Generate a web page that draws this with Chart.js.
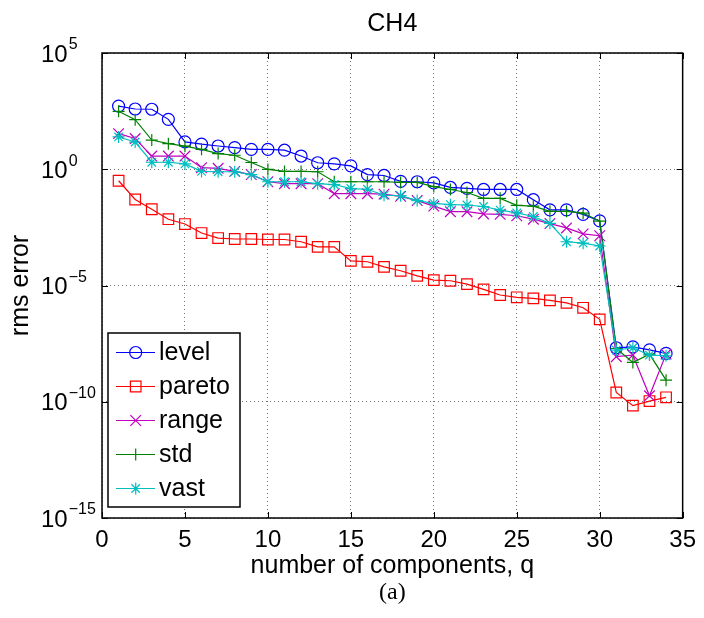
<!DOCTYPE html>
<html>
<head>
<meta charset="utf-8">
<script src="https://cdn.jsdelivr.net/npm/chart.js@4/dist/chart.umd.min.js"></script>
<style>
  html, body { margin: 0; padding: 0; background: #fff; }
  canvas { display: block; }
</style>
</head>
<body>
<canvas id="c" width="704" height="618"></canvas>
<script>
// number of retained components
const components = [1, 2, 3, 4, 5, 6, 7, 8, 9, 10, 11, 12, 13, 14, 15, 16, 17,
  18, 19, 20, 21, 22, 23, 24, 25, 26, 27, 28, 29, 30, 31, 32, 33, 34];

// rms reconstruction error for each scaling method
const level = [5.2e2, 3.9e2, 3.8e2, 1.4e2, 1.5e1, 1.2e1, 1.0e1, 8.5e0, 7.2e0, 7.2e0,
  6.6e0, 3.7e0, 1.9e0, 1.7e0, 1.4e0, 5.9e-1, 5.4e-1, 3.0e-1, 2.9e-1, 2.6e-1,
  1.65e-1, 1.5e-1, 1.35e-1, 1.35e-1, 1.35e-1, 4.9e-2, 1.8e-2, 1.8e-2, 1.15e-2, 6.0e-3,
  2.1e-8, 2.3e-8, 1.7e-8, 1.2e-8];
const pareto = [3.2e-1, 5.0e-2, 1.9e-2, 7.1e-3, 4.4e-3, 1.8e-3, 1.1e-3, 1.0e-3, 1.0e-3, 9.5e-4,
  9.5e-4, 7.6e-4, 4.6e-4, 4.6e-4, 1.15e-4, 1.05e-4, 6.3e-5, 4.3e-5, 2.6e-5, 1.7e-5,
  1.6e-5, 1.15e-5, 6.8e-6, 3.9e-6, 3.1e-6, 2.8e-6, 2.3e-6, 1.8e-6, 1.1e-6, 3.5e-7,
  2.5e-10, 6.8e-11, 1.07e-10, 1.55e-10];
const range = [3.4e1, 2.1e1, 3.7e0, 3.7e0, 3.7e0, 1.17e0, 1.1e0, 8.1e-1, 5.9e-1, 2.9e-1,
  2.4e-1, 2.4e-1, 2.4e-1, 8.9e-2, 8.9e-2, 8.9e-2, 8.5e-2, 6.8e-2, 4.5e-2, 2.6e-2,
  1.5e-2, 1.5e-2, 1.2e-2, 1.15e-2, 1.0e-2, 7.1e-3, 4.6e-3, 3.0e-3, 1.66e-3, 1.38e-3,
  8.7e-9, 1.02e-8, 1.8e-10, 1.12e-8];
const std = [3.1e2, 1.35e2, 1.8e1, 1.26e1, 9.8e0, 7.2e0, 4.7e0, 4.0e0, 1.95e0, 9.8e-1,
  8.1e-1, 8.1e-1, 7.8e-1, 2.9e-1, 2.9e-1, 2.9e-1, 2.9e-1, 2.7e-1, 2.7e-1, 1.8e-1,
  1.35e-1, 1.0e-1, 5.6e-2, 5.6e-2, 2.8e-2, 2.6e-2, 1.55e-2, 1.55e-2, 1.3e-2, 5.9e-3,
  1.95e-8, 4.9e-9, 1.12e-8, 8.5e-10];
const vast = [2.45e1, 1.48e1, 2.0e0, 2.0e0, 1.7e0, 8.1e-1, 7.8e-1, 7.8e-1, 5.9e-1, 2.9e-1,
  2.9e-1, 2.9e-1, 2.4e-1, 2.2e-1, 1.48e-1, 1.38e-1, 7.6e-2, 7.3e-2, 4.5e-2, 3.4e-2,
  3.0e-2, 2.9e-2, 2.5e-2, 1.74e-2, 1.32e-2, 9.3e-3, 4.7e-3, 7.6e-4, 6.6e-4, 5.0e-4,
  1.66e-8, 2.1e-8, 1.02e-8, 9.5e-9];

// axis ticks
const xTicks = [0, 5, 10, 15, 20, 25, 30, 35];
const yTickExponents = [5, 0, -5, -10, -15];

const SANS = '"Liberation Sans", Arial, Helvetica, sans-serif';

const series = [
  { label: 'level',  values: level,  color: '#0000ff', style: 'circle',   radius: 6 },
  { label: 'pareto', values: pareto, color: '#ff0000', style: 'rect',     radius: 7.5 },
  { label: 'range',  values: range,  color: '#bf00bf', style: 'crossRot', radius: 7.5 },
  { label: 'std',    values: std,    color: '#008000', style: 'cross',    radius: 6 },
  { label: 'vast',   values: vast,   color: '#00bfbf', style: 'star',     radius: 6 }
];

const datasets = series.map((s, i) => ({
  label: s.label,
  data: components.map((q, k) => ({ x: q, y: s.values[k] })),
  borderColor: s.color,
  backgroundColor: s.color,
  borderWidth: 1.2,
  pointStyle: s.style,
  pointRadius: s.radius,
  pointHoverRadius: s.radius,
  pointBorderWidth: 1.2,
  pointBorderColor: s.color,
  pointBackgroundColor: 'rgba(0,0,0,0)',
  tension: 0,
  order: series.length - i   // later series painted on top
}));

function markerAt(ctx, s, x, y) {
  ctx.save();
  ctx.strokeStyle = s.color;
  ctx.fillStyle = 'rgba(0,0,0,0)';
  ctx.lineWidth = 1.2;
  if (Chart.helpers && Chart.helpers.drawPoint) {
    Chart.helpers.drawPoint(ctx, { pointStyle: s.style, rotation: 0, radius: s.radius, borderWidth: 1.2 }, x, y);
  }
  ctx.restore();
}

// frame, inward tick marks, superscripted y labels and the boxed legend
const decorations = {
  id: 'decorations',
  afterDraw(chart) {
    const { ctx, chartArea: a, scales } = chart;
    const xs = scales.x, ys = scales.y;
    ctx.save();
    ctx.strokeStyle = '#000';
    ctx.lineWidth = 1.5;
    ctx.strokeRect(a.left, a.top, a.right - a.left, a.bottom - a.top);

    ctx.lineWidth = 1;
    const tl = 6;
    ctx.beginPath();
    xTicks.forEach(v => {
      const px = Math.round(xs.getPixelForValue(v)) + 0.5;
      ctx.moveTo(px, a.bottom); ctx.lineTo(px, a.bottom - tl);
      ctx.moveTo(px, a.top); ctx.lineTo(px, a.top + tl);
    });
    yTickExponents.forEach(e => {
      const py = Math.round(ys.getPixelForValue(Math.pow(10, e))) + 0.5;
      ctx.moveTo(a.left, py); ctx.lineTo(a.left + tl, py);
      ctx.moveTo(a.right, py); ctx.lineTo(a.right - tl, py);
    });
    ctx.stroke();

    // y tick labels: base "10" with raised exponent
    ctx.fillStyle = '#000';
    ctx.textBaseline = 'middle';
    ctx.textAlign = 'left';
    yTickExponents.forEach(e => {
      const py = ys.getPixelForValue(Math.pow(10, e));
      ctx.font = '24px ' + SANS;
      ctx.fillText('10', 41, py + 2);
      const w = ctx.measureText('10').width;
      ctx.font = '16px ' + SANS;
      ctx.fillText(e < 0 ? '\u2212' + Math.abs(e) : String(e), 41 + w + 1, py - 8);
    });

    // legend
    const lx = 108, ly = 333, lw = 132, lh = 174;
    ctx.fillStyle = '#fff';
    ctx.fillRect(lx, ly, lw, lh);
    ctx.strokeStyle = '#000';
    ctx.lineWidth = 1.5;
    ctx.strokeRect(lx, ly, lw, lh);
    series.forEach((s, i) => {
      const cy = 352 + i * 34;
      ctx.strokeStyle = s.color;
      ctx.lineWidth = 1.2;
      ctx.beginPath();
      ctx.moveTo(116, cy + 0.5); ctx.lineTo(155, cy + 0.5);
      ctx.stroke();
      markerAt(ctx, s, 135.7, cy + 0.5);
      ctx.fillStyle = '#000';
      ctx.font = '25px ' + SANS;
      ctx.textBaseline = 'middle';
      ctx.fillText(s.label, 159, cy + 1);
    });
    ctx.restore();
  }
};

new Chart(document.getElementById('c'), {
  type: 'line',
  data: { datasets },
  options: {
    responsive: false,
    animation: false,
    events: [],
    layout: { padding: { left: 0, right: 17, top: 0, bottom: 0 } },
    plugins: {
      legend: { display: false },
      tooltip: { enabled: false },
      title: {
        display: true, text: 'CH4', color: '#000', fullSize: false,
        font: { family: SANS, size: 25, weight: 'normal', lineHeight: 1.2 },
        padding: { top: 9, bottom: 14 }
      },
      subtitle: {
        display: true, text: '(a)', position: 'bottom', color: '#000', fullSize: false,
        font: { family: '"Liberation Serif", "Times New Roman", serif', size: 24, weight: 'normal', lineHeight: 1.2 },
        padding: { top: 0, bottom: 11 }
      }
    },
    scales: {
      x: {
        type: 'linear', min: 0, max: 35,
        afterBuildTicks(scale) { scale.ticks = xTicks.map(v => ({ value: v })); },
        afterFit(scale) { scale.height = 60.2; },
        ticks: {
          color: '#000', autoSkip: false, maxRotation: 0, padding: 8,
          font: { family: SANS, size: 24, lineHeight: 1.2 }
        },
        grid: { color: 'rgba(0,0,0,0.55)', lineWidth: 1, drawTicks: false },
        border: { display: false, dash: [1, 3] },
        title: {
          display: true, text: 'number of components, q', color: '#000',
          font: { family: SANS, size: 25, lineHeight: 1 },
          padding: { top: 0, bottom: 0 }
        }
      },
      y: {
        type: 'logarithmic', min: 1e-15, max: 1e5,
        afterBuildTicks(scale) { scale.ticks = yTickExponents.map(e => ({ value: Math.pow(10, e) })); },
        afterFit(scale) { scale.width = 102; },
        ticks: { display: false },
        grid: { color: 'rgba(0,0,0,0.55)', lineWidth: 1, drawTicks: false },
        border: { display: false, dash: [1, 3] },
        title: {
          display: true, text: 'rms error', color: '#000',
          font: { family: SANS, size: 25, lineHeight: 1.2 },
          padding: { top: 6, bottom: 0 }
        }
      }
    }
  },
  plugins: [decorations]
});
</script>
</body>
</html>
